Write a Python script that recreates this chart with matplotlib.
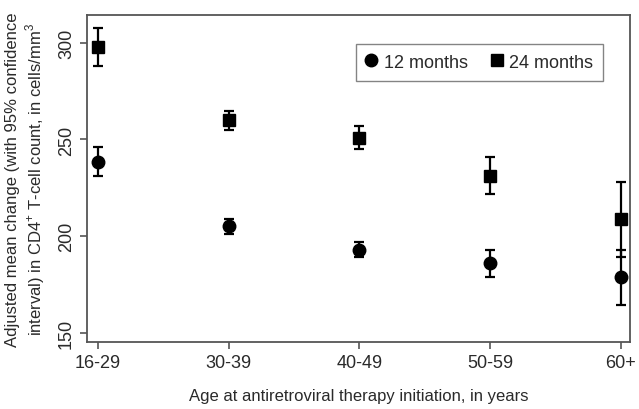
import matplotlib
matplotlib.use("Agg")
import matplotlib.pyplot as plt
import numpy as np

plt.rcParams['font.family'] = ['Liberation Sans', 'DejaVu Sans']
plt.rcParams['mathtext.fontset'] = 'custom'
plt.rcParams['mathtext.rm'] = 'Liberation Sans'

categories = ["16-29", "30-39", "40-49", "50-59", "60+"]
m12 = [238.5, 205, 193, 186, 179]
m12_lo = [231, 201, 189, 179, 164]
m12_hi = [246, 209, 197, 193, 193]
m24 = [298, 260, 251, 231, 209]
m24_lo = [288, 255, 245, 222, 189]
m24_hi = [308, 265, 257, 241, 228]

fig = plt.figure(figsize=(6.39, 4.10), dpi=100)
ax = fig.add_axes([0.136, 0.163, 0.850, 0.798])
x = np.arange(len(categories))
tc = '#2a2a2a'

ax.errorbar(x, m12, yerr=[np.array(m12) - np.array(m12_lo), np.array(m12_hi) - np.array(m12)],
            fmt='o', color='black', ms=9, capsize=3.5, elinewidth=1.6, capthick=1.6, label='12 months')
ax.errorbar(x, m24, yerr=[np.array(m24) - np.array(m24_lo), np.array(m24_hi) - np.array(m24)],
            fmt='s', color='black', ms=8.5, capsize=3.5, elinewidth=1.6, capthick=1.6, label='24 months')

ax.set_xlim(-0.084, 4.07)
ax.set_ylim(145, 314.5)
ax.set_xticks(x)
ax.set_xticklabels(categories)
ax.set_yticks([150, 200, 250, 300])
for lab in ax.get_yticklabels():
    lab.set_rotation(90)
    lab.set_va('center')
ax.tick_params(labelsize=13, colors='#555555', labelcolor=tc, width=1.2, length=5)
for s in ax.spines.values():
    s.set_color('#555555')
    s.set_linewidth(1.3)

ax.set_xlabel("Age at antiretroviral therapy initiation, in years", fontsize=12, color=tc, labelpad=12)
ax.set_ylabel("Adjusted mean change (with 95% confidence\ninterval) in CD4$^{+}$ T-cell count, in cells/mm$^{3}$",
              fontsize=12, color=tc, labelpad=8)

handles, labels = ax.get_legend_handles_labels()
handles = [h[0] for h in handles]
leg = ax.legend(handles, labels, ncol=2, loc='upper right', bbox_to_anchor=(0.967, 0.94), fontsize=13,
                frameon=True, fancybox=False, edgecolor='#666666', handlelength=0.6, handletextpad=0.4,
                columnspacing=1.3, borderpad=0.55)
leg.get_frame().set_linewidth(1.0)
for t in leg.get_texts():
    t.set_color(tc)

fig.savefig("out.png", dpi=100)
